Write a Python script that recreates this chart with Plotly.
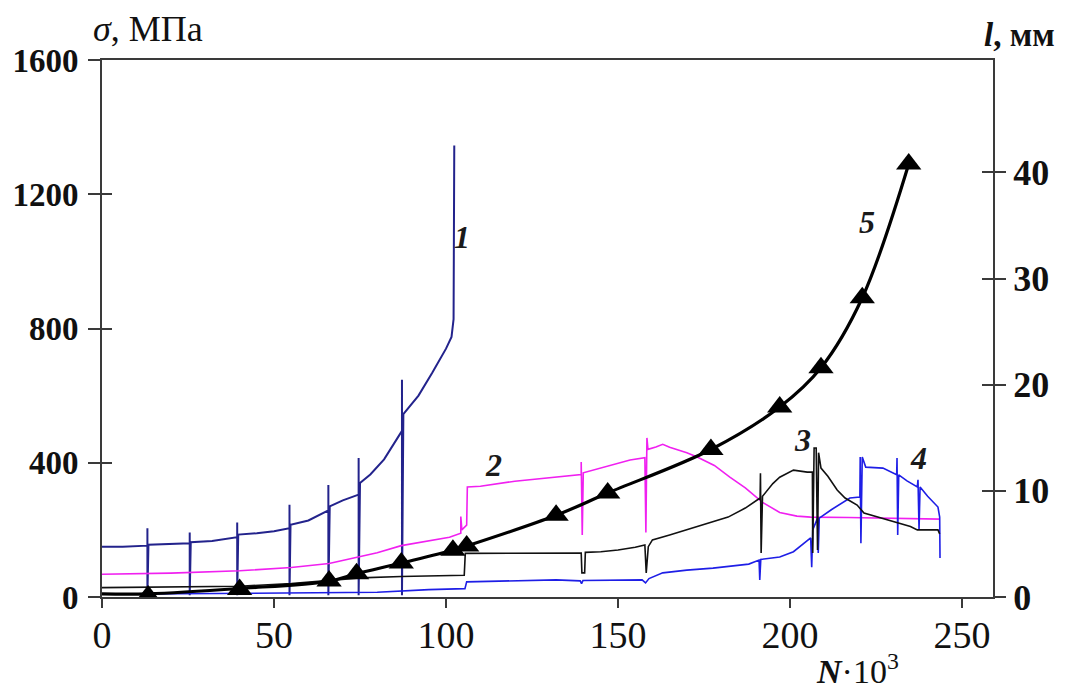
import plotly.graph_objects as go

# ---------------- data ----------------
# Curve 1 (sigma, MPa)
n1 = [0, 6, 13.2, 13.2, 13.2, 13.5, 20, 25.5, 25.5, 25.5, 25.8, 32, 39.3, 39.3, 39.3, 39.6, 45, 50,
      54.5, 54.5, 54.5, 54.8, 60, 65.8, 65.8, 65.8, 66.2, 70, 74.6, 74.6, 74.6, 75, 78, 82, 87.2,
      87.2, 87.2, 87.6, 92, 96, 100, 101.6, 102.2, 102.4]
s1 = [150, 150, 153, 205, 5, 156, 157, 160, 192, 5, 163, 167, 178, 222, 5, 186, 190, 196,
      205, 275, 5, 215, 228, 258, 334, 5, 270, 288, 305, 414, 5, 340, 365, 410, 495,
      647, 5, 545, 600, 668, 740, 775, 828, 1345]

# Curve 2 (sigma, MPa)
n2 = [0, 20, 40, 55, 66, 74, 80, 87, 95, 101, 104.3, 104.3, 104.6, 106, 106.2, 110, 120, 130,
      139.3, 139.3, 139.6, 139.9, 145, 150, 153.5, 157.8, 158.1, 158.4, 158.7, 161, 163, 165,
      170, 173, 178, 182.5, 187, 192, 197, 202, 206, 217, 230, 243.6]
s2 = [68, 71, 78, 88, 100, 118, 132, 153, 168, 178, 190, 240, 200, 214, 328, 330, 345, 355,
      365, 402, 185, 370, 385, 398, 408, 415, 192, 474, 440, 447, 455, 446,
      430, 417, 392, 357, 325, 282, 252, 241, 238, 237, 235, 232]

# Curve 3 (sigma, MPa)
n3 = [0, 20, 40, 55, 66, 75, 87, 105.3, 105.6, 120, 139.3, 139.5, 140.3, 140.5, 145, 150, 155,
      157.8, 158.2, 158.8, 160, 165, 170, 175, 182, 187, 191.3, 191.4, 191.6, 192, 195, 197,
      201, 205, 206.5, 206.6, 207, 207.6, 208, 208.3, 209, 211, 213.7, 216, 219.5, 221.5,
      225, 231, 235, 237, 243, 243.5]
s3 = [28, 29, 32, 40, 50, 57, 61, 65, 130, 131, 131, 72, 72, 133, 135, 140, 148,
      155, 72, 150, 170, 185, 200, 215, 238, 265, 295, 369, 131, 300, 338, 357,
      378, 372, 372, 131, 444, 444, 140, 430, 384, 360, 319, 295, 274, 250,
      240, 223, 210, 200, 200, 188]

# Curve 4 (sigma, MPa)
n4 = [0, 20, 40, 60, 80, 95, 105.5, 106, 120, 132, 139, 139.4, 139.8, 145, 150, 157, 158, 159,
      163, 170, 177.6, 185, 188, 191, 191.2, 191.5, 197, 201, 206, 206.3, 206.6, 208, 208.2,
      208.5, 212, 217.4, 220.3, 220.4, 220.6, 221, 222, 227, 231, 231.1, 231.3, 231.6, 234,
      237, 237.2, 237.5, 237.8, 240, 243, 243.5, 243.6]
s4 = [8, 9, 10, 12, 14, 22, 25, 45, 48, 51, 48, 40, 49, 50, 50, 51, 42, 55,
      72, 80, 86, 95, 98, 110, 51, 112, 119, 135, 176, 89, 200, 235, 131,
      235, 260, 295, 298, 417, 160, 417, 387, 384, 364, 414, 185, 364, 346,
      328, 349, 200, 328, 300, 268, 238, 116]

# Curve 5 (crack length l, mm)
n5_line = [0, 13.4, 40, 66, 74, 87, 102, 106, 132, 147, 177, 197, 209, 221, 234.5]
l5_line = [0.3, 0.3, 0.8, 1.5, 2.2, 3.2, 4.4, 4.8, 7.7, 9.8, 13.9, 17.9, 21.6, 28.2, 40.8]
n5_mark = [13.4, 40, 66, 74, 87, 102, 106, 132, 147, 177, 197, 209, 221, 234.5]
l5_mark = [0.1, 0.7, 1.5, 2.2, 3.2, 4.4, 4.8, 7.7, 9.8, 13.9, 17.9, 21.6, 28.2, 40.8]

# tick labels
x_ticks = [0, 50, 100, 150, 200, 250]
y_ticks = [0, 400, 800, 1200, 1600]
y2_ticks = [0, 10, 20, 30, 40]

# curve labels: (text, N, sigma)
curve_labels = [("1", 104.7, 1073), ("2", 113.7, 393), ("3", 203.5, 468),
                ("4", 237.2, 414), ("5", 222.4, 1117)]

# ---------------- figure ----------------
SERIF = "Liberation Serif"
AX = "#3a3a3a"

fig = go.Figure()
fig.add_trace(go.Scatter(x=n1, y=s1, mode="lines", line=dict(color="#23238c", width=2), yaxis="y"))
fig.add_trace(go.Scatter(x=n2, y=s2, mode="lines", line=dict(color="#f020f0", width=1.6), yaxis="y"))
fig.add_trace(go.Scatter(x=n4, y=s4, mode="lines", line=dict(color="#1e1ee6", width=1.6), yaxis="y"))
fig.add_trace(go.Scatter(x=n3, y=s3, mode="lines", line=dict(color="#111111", width=1.6), yaxis="y"))
fig.add_trace(go.Scatter(x=n5_line, y=l5_line, mode="lines", line=dict(color="#000000", width=3.2, shape="spline"),
                         yaxis="y2"))
fig.add_trace(go.Scatter(x=n5_mark, y=l5_mark, mode="markers",
                         marker=dict(symbol="triangle-up", size=22, color="#000000"), yaxis="y2"))
# dummy traces for tick-only overlay axes
fig.add_trace(go.Scatter(x=[0], y=[0], mode="markers", marker=dict(opacity=0), yaxis="y3", hoverinfo="skip"))
fig.add_trace(go.Scatter(x=[0], y=[0], mode="markers", marker=dict(opacity=0), yaxis="y4", hoverinfo="skip"))

for txt, xx, yy in curve_labels:
    fig.add_annotation(x=xx, y=yy, xref="x", yref="y", text=f"<b><i>{txt}</i></b>", showarrow=False,
                       xanchor="center", yanchor="middle",
                       font=dict(family=SERIF, size=32, color="#1a1a1a"))

fig.add_annotation(x=0.052, y=1.058, xref="paper", yref="paper", text="<i>σ</i>, МПа", showarrow=False,
                   xanchor="center", yanchor="middle",
                   font=dict(family=SERIF, size=36, color="#111111"))
fig.add_annotation(x=1.030, y=1.047, xref="paper", yref="paper", text="<b><i>l</i>, мм</b>", showarrow=False,
                   xanchor="center", yanchor="middle",
                   font=dict(family=SERIF, size=33, color="#111111"))
fig.add_annotation(x=0.848, y=-0.135, xref="paper", yref="paper",
                   text="<b><i>N</i></b>·10<sup>3</sup>", showarrow=False,
                   xanchor="center", yanchor="middle",
                   font=dict(family=SERIF, size=34, color="#111111"))

fig.update_layout(
    width=1067, height=693,
    margin=dict(l=102, r=74, t=60, b=96),
    paper_bgcolor="white", plot_bgcolor="white",
    showlegend=False,
    xaxis=dict(range=[0, 259], tickvals=x_ticks, ticks="outside", ticklen=9, tickwidth=2, tickcolor=AX,
               showline=True, linecolor=AX, linewidth=2, mirror=True, showgrid=False, zeroline=False,
               ticklabelstandoff=-6,
               tickfont=dict(family=SERIF, size=38, color="#111111")),
    yaxis=dict(range=[0, 1600], tickvals=y_ticks, ticks="outside", ticklen=12, tickwidth=2, tickcolor=AX,
               showline=True, linecolor=AX, linewidth=2, showgrid=False, zeroline=False,
               ticklabelstandoff=3,
               tickfont=dict(family=SERIF, size=33, color="#111111", weight="bold")),
    yaxis2=dict(range=[0, 50.6], tickvals=y2_ticks, ticks="outside", ticklen=11, tickwidth=2, tickcolor=AX,
                overlaying="y", side="right", anchor="x",
                showline=True, linecolor=AX, linewidth=2, showgrid=False, zeroline=False,
                tickfont=dict(family=SERIF, size=36, color="#111111", weight="bold")),
    yaxis3=dict(range=[0, 1600], tickvals=y_ticks, ticks="inside", ticklen=10, tickwidth=2, tickcolor=AX,
                overlaying="y", side="left", anchor="x", showticklabels=False,
                showline=False, showgrid=False, zeroline=False),
    yaxis4=dict(range=[0, 50.6], tickvals=y2_ticks, ticks="inside", ticklen=11, tickwidth=2, tickcolor=AX,
                overlaying="y", side="right", anchor="x", showticklabels=False,
                showline=False, showgrid=False, zeroline=False),
)

fig.write_html("out.html")
